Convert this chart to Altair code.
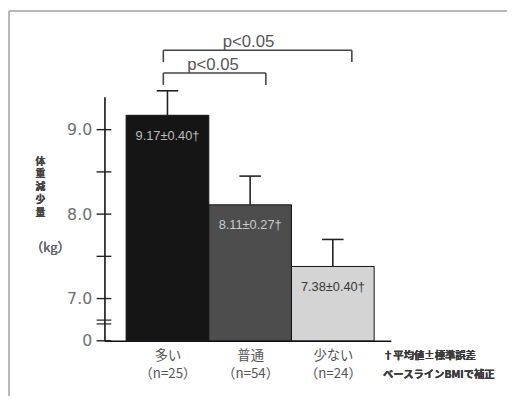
import altair as alt
import pandas as pd

# ---------------- data ----------------
categories = ["多い", "普通", "少ない"]
n_labels = ["（n=25）", "（n=54）", "（n=24）"]
means = [9.17, 8.11, 7.38]
se_labels = ["0.40", "0.27", "0.40"]
whisker_tops = [9.46, 8.45, 7.70]

axis_base = 6.5                      # shown as "0" (broken axis)
y_label_values = [6.5, 7.0, 8.0, 9.0]
y_tick_values = [6.5, 7.0, 7.5, 8.0, 8.5, 9.0]
break_values = [6.70, 6.745]

bracket_left = [-0.05, -0.05]
bracket_right = [1.19, 2.23]
bracket_y = [9.67, 9.94]
bracket_leg_y = [9.53, 9.80]
bracket_text = ["p<0.05", "p<0.05"]
bracket_text_x = [0.55, 0.98]
bracket_text_y = [9.76, 10.04]

y_title = ["体", "重", "減", "少", "量"]
y_unit = "（kg）"
footnote = ["†平均値±標準誤差", "ベースラインBMIで補正"]

# ---------------- styles ----------------
fill_colors = ["#151515", "#4d4d4d", "#d4d4d4"]
label_colors = ["#bdbdbd", "#cccccc", "#383838"]
JP = "Noto Sans CJK JP"

bars = pd.DataFrame({
    "idx": list(range(len(categories))),
    "cat": categories,
    "mean": means,
    "top": whisker_tops,
})
bars["x1"] = bars["idx"] - 0.5
bars["x2"] = bars["idx"] + 0.5
bars["c1"] = bars["idx"] - 0.13
bars["c2"] = bars["idx"] + 0.13
bars["base"] = axis_base
bars["label"] = [f"{m:.2f}±{s}†" for m, s in zip(means, se_labels)]

ticks = pd.DataFrame({"v": y_tick_values})
breaks = pd.DataFrame({"v": break_values})

br = pd.DataFrame({
    "l": bracket_left, "r": bracket_right, "y": bracket_y, "leg": bracket_leg_y,
    "t": bracket_text, "tx": bracket_text_x, "ty": bracket_text_y,
})
legs = pd.DataFrame({
    "x": bracket_left + bracket_right,
    "y": bracket_y + bracket_y,
    "leg": bracket_leg_y + bracket_leg_y,
})

xs = alt.Scale(domain=[-0.762, 2.702], nice=False, zero=False)
ys = alt.Scale(domain=[axis_base, 9.39], nice=False, zero=False)

label_js = "[" + ",".join(f"'{c}|{n}'" for c, n in zip(categories, n_labels)) + "]"
x_axis = alt.Axis(
    values=list(range(len(categories))),
    labelExpr=f"split({label_js}[datum.value], '|')",
    ticks=False, grid=False, domainColor="#111", domainWidth=1.6,
    labelFont=JP, labelFontSize=13.5, labelColor="#555", labelPadding=8,
    labelLineHeight=18, labelBaseline="top", title=None,
)
y_axis = alt.Axis(
    values=y_label_values,
    labelExpr=f"datum.value == {axis_base} ? '0' : format(datum.value, '.1f')",
    ticks=False, grid=False, domainColor="#111", domainWidth=1.6,
    labelFont="DejaVu Sans", labelFontSize=16, labelColor="#707070",
    labelPadding=13, title=None,
)


def X(field):
    return alt.X(field, scale=xs, axis=x_axis)


def Y(field):
    return alt.Y(field, scale=ys, axis=y_axis)


bar_layer = alt.Chart(bars).mark_bar(stroke="#111", strokeWidth=1).encode(
    x=X("x1:Q"), x2="x2:Q",
    y=Y("mean:Q"), y2="base:Q",
    fill=alt.Fill("cat:N", scale=alt.Scale(domain=categories, range=fill_colors), legend=None),
)

whisker = alt.Chart(bars).mark_rule(color="#222", strokeWidth=1.6).encode(
    x=X("idx:Q"), y=Y("mean:Q"), y2="top:Q",
)
caps = alt.Chart(bars).mark_rule(color="#222", strokeWidth=1.6).encode(
    x=X("c1:Q"), x2="c2:Q", y=Y("top:Q"),
)
value_text = alt.Chart(bars).mark_text(
    font="Liberation Sans", fontSize=13, dy=21, baseline="middle"
).encode(
    x=X("idx:Q"), y=Y("mean:Q"),
    text="label:N",
    color=alt.Color("cat:N", scale=alt.Scale(domain=categories, range=label_colors), legend=None),
)

tick_layer = alt.Chart(ticks).mark_rule(color="#222", strokeWidth=1.4).encode(
    x=alt.value(-8), x2=alt.value(7), y=Y("v:Q"),
)
break_layer = alt.Chart(breaks).mark_rule(color="#222", strokeWidth=1.2).encode(
    x=alt.value(-8), x2=alt.value(7), y=Y("v:Q"),
)

br_h = alt.Chart(br).mark_rule(color="#444", strokeWidth=1.6).encode(
    x=X("l:Q"), x2="r:Q", y=Y("y:Q"),
)
br_v = alt.Chart(legs).mark_rule(color="#444", strokeWidth=1.6).encode(
    x=X("x:Q"), y=Y("y:Q"), y2="leg:Q",
)
br_t = alt.Chart(br).mark_text(
    font="Liberation Sans", fontSize=17, color="#555", baseline="middle"
).encode(
    x=X("tx:Q"), y=Y("ty:Q"), text="t:N",
)

frame_v = alt.Chart(bars).mark_rule(color="#b8b8b8", strokeWidth=2).encode(
    x=alt.value(-97), y=alt.value(-87), y2=alt.value(304)
)
frame_h = alt.Chart(bars).mark_rule(color="#b8b8b8", strokeWidth=2).encode(
    x=alt.value(-97), x2=alt.value(409), y=alt.value(-87)
)

title_v = alt.Chart(bars).mark_text(
    text=y_title, font=JP, fontSize=10, fontWeight="bold", color="#444",
    lineHeight=13, baseline="top", align="center",
).encode(x=alt.value(-65), y=alt.value(61))
title_u = alt.Chart(bars).mark_text(
    text=y_unit, font=JP, fontSize=13, color="#666", baseline="middle", align="center",
).encode(x=alt.value(-55), y=alt.value(154))
note = alt.Chart(bars).mark_text(
    text=footnote, font=JP, fontSize=10.5, fontWeight="bold", color="#3a3a3a",
    lineHeight=19, baseline="middle", align="left",
).encode(x=alt.value(283), y=alt.value(264))

chart = alt.layer(
    bar_layer, whisker, caps, value_text, tick_layer,
    break_layer, br_h, br_v, br_t, frame_v, frame_h, title_v, title_u, note,
).properties(
    width=291, height=248,
    padding={"left": 98, "top": 87, "right": 118, "bottom": 56},
    autosize=alt.AutoSizeParams(type="none"),
    background="white",
).configure_view(stroke=None)

chart.save("out.html", embed_options={"renderer": "svg", "actions": False})
